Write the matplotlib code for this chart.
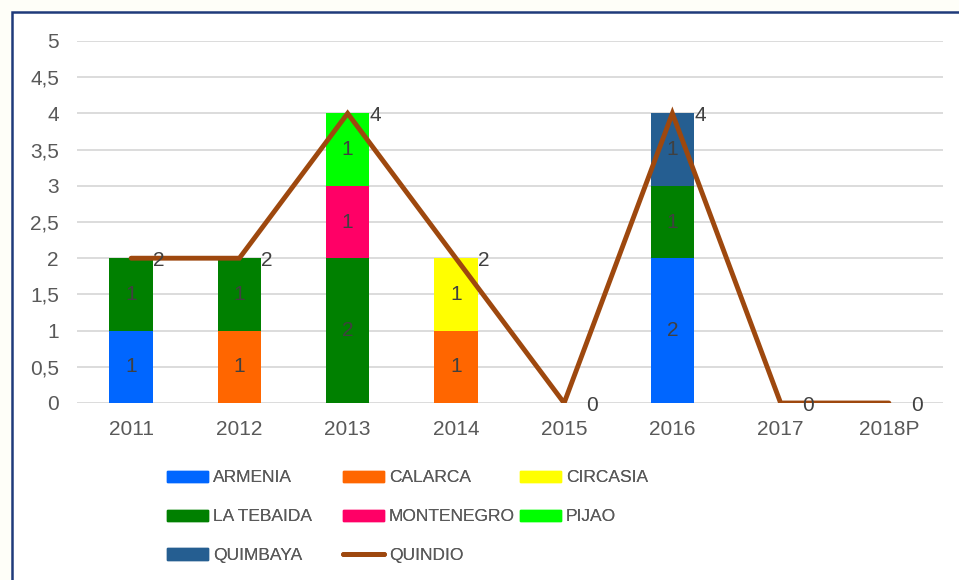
import matplotlib.pyplot as plt
import matplotlib.patches as mpatches
from matplotlib.lines import Line2D
import numpy as np

# ── Data ──────────────────────────────────────────────────────────────────────
years = ['2011', '2012', '2013', '2014', '2015', '2016', '2017', '2018P']
municipios = ['ARMENIA', 'CALARCA', 'CIRCASIA', 'LA TEBAIDA', 'MONTENEGRO', 'PIJAO', 'QUIMBAYA']
armenia    = [1, 0, 0, 0, 0, 2, 0, 0]
calarca    = [0, 1, 0, 1, 0, 0, 0, 0]
circasia   = [0, 0, 0, 1, 0, 0, 0, 0]
la_tebaida = [1, 1, 2, 0, 0, 1, 0, 0]
montenegro = [0, 0, 1, 0, 0, 0, 0, 0]
pijao      = [0, 0, 1, 0, 0, 0, 0, 0]
quimbaya   = [0, 0, 0, 0, 0, 1, 0, 0]
quindio    = [2, 2, 4, 2, 0, 4, 0, 0]

series = [armenia, calarca, circasia, la_tebaida, montenegro, pijao, quimbaya]
colors = ['#0066FF', '#FF6600', '#FFFF00', '#008000', '#FF0066', '#00FF00', '#255E91']
line_color = '#9E480E'
text_color = '#595959'
label_color = '#404040'

# ── Style & Layout ────────────────────────────────────────────────────────────
plt.rcParams['font.family'] = ['Liberation Sans', 'DejaVu Sans']
fig = plt.figure(figsize=(9.59, 5.80), dpi=100)
fig.patch.set_facecolor('#FEFEF8')
frame = mpatches.Rectangle((11.5 / 959, -0.1), 1.2, 1 - 11.5 / 580 + 0.1,
                           transform=fig.transFigure, facecolor='white',
                           edgecolor='#1F3A7A', lw=1.8, zorder=-5)
fig.patches.append(frame)

ax = fig.add_axes([77 / 959, 1 - 403 / 580, (943 - 77) / 959, (403 - 41) / 580])
ax.set_facecolor('none')
x = np.arange(len(years))

# ── Stacked bars ──────────────────────────────────────────────────────────────
bottom = np.zeros(len(years))
handles = []
for name, vals, col in zip(municipios, series, colors):
    vals = np.array(vals, dtype=float)
    bars = ax.bar(x, vals, 0.4, bottom=bottom, color=col, label=name, zorder=2)
    for b, v, b0 in zip(bars, vals, bottom):
        if v > 0:
            ax.text(b.get_x() + b.get_width() / 2, b0 + v / 2, f'{int(v)}',
                    ha='center', va='center', fontsize=15, color=label_color, zorder=3)
    bottom += vals
    handles.append(mpatches.Patch(color=col, label=name))

# ── Total line ────────────────────────────────────────────────────────────────
ax.plot(x, quindio, color=line_color, lw=3.5, solid_capstyle='round',
        solid_joinstyle='miter', zorder=4)
for xi, v in zip(x, quindio):
    ax.annotate(f'{v}', (xi, v), xytext=(20, -1.5), textcoords='offset points',
                ha='center', va='center', fontsize=15, color=label_color, zorder=5)
handles.append(Line2D([0], [0], color=line_color, lw=3.5, solid_capstyle='round', label='QUINDIO'))

# ── Axes ──────────────────────────────────────────────────────────────────────
ax.set_xlim(-0.5, len(years) - 0.5)
ax.set_ylim(0, 5)
ax.set_yticks(np.arange(0, 5.01, 0.5))
ax.set_yticklabels([f'{t:g}'.replace('.', ',') for t in np.arange(0, 5.01, 0.5)])
ax.set_xticks(x)
ax.set_xticklabels(years)
ax.tick_params(axis='y', length=0, pad=13, labelsize=15, labelcolor=text_color)
ax.tick_params(axis='x', length=0, pad=12.5, labelsize=15, labelcolor=text_color)
ax.grid(axis='y', color='#D9D9D9', lw=1.3, zorder=0)
ax.set_axisbelow(True)
for s in ax.spines.values():
    s.set_visible(False)

# ── Legend (three columns placed like the original) ───────────────────────────
cols = [[handles[0], handles[3], handles[6]],
        [handles[1], handles[4], handles[7]],
        [handles[2], handles[5]]]
col_x = [167, 343, 520]
for hs, cx in zip(cols, col_x):
    leg = fig.legend(handles=hs, loc='upper left', bbox_to_anchor=(cx / 959, 1 - 470.5 / 580),
                     frameon=False, fontsize=12.5, handlelength=2.35, handleheight=0.66,
                     handletextpad=0.3, labelspacing=1.38, borderpad=0, borderaxespad=0,
                     labelcolor=text_color)
    fig.add_artist(leg)

plt.savefig('out.png', dpi=100, facecolor=fig.get_facecolor())
